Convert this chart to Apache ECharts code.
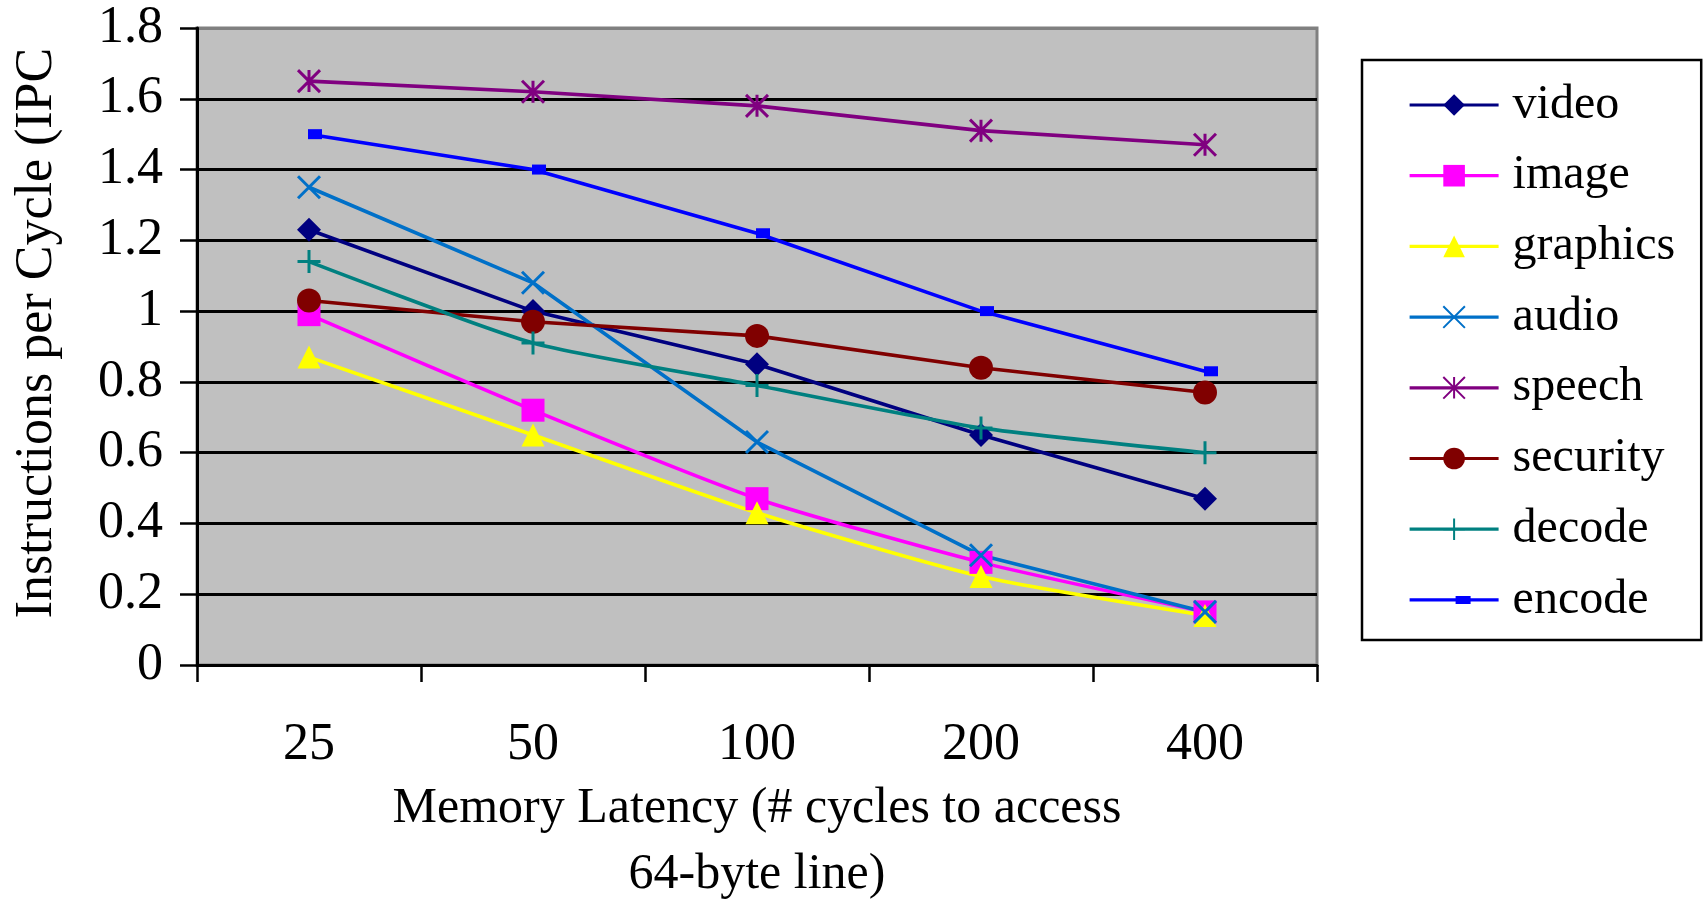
<!DOCTYPE html>
<html>
<head>
<meta charset="utf-8">
<title>IPC vs memory latency</title>
<script src="https://cdn.jsdelivr.net/npm/echarts@6/dist/echarts.min.js"></script>
<style>
  html, body { margin: 0; padding: 0; background: #ffffff; }
  #chart { width: 1707px; height: 901px; }
</style>
</head>
<body>
<div id="chart"></div>
<script>
// Memory latency settings (cycles to fetch a 64-byte line)
const latencies = ['25', '50', '100', '200', '400'];

// Instructions per cycle for each workload class
const video    = [1.23, 1.00, 0.85, 0.65, 0.47];
const image    = [0.99, 0.72, 0.47, 0.29, 0.15];
const graphics = [0.87, 0.65, 0.43, 0.25, 0.14];
const audio    = [1.35, 1.08, 0.63, 0.31, 0.15];
const speech   = [1.65, 1.62, 1.58, 1.51, 1.47];
const security = [1.03, 0.97, 0.93, 0.84, 0.77];
const decode   = [1.14, 0.91, 0.79, 0.67, 0.60];
const encode   = [1.50, 1.40, 1.22, 1.00, 0.83];

// Value axis range
const yMin = 0;
const yMax = 1.8;
const yStep = 0.2;

const FONT = '"Liberation Serif", "Times New Roman", serif';
const LINE_W = 3.6;

// Stroke-only marker outlines
const SYM_X = 'path://M0,0L20,20M20,0L0,20';
const SYM_STAR = 'path://M10,0L10,20M0,0L20,20M20,0L0,20';
const SYM_PLUS = 'path://M10,0L10,20M0,10L20,10';
// Legend glyph for the encode series: line with a small offset block
const ICON_ENCODE = 'path://M0,11.4h89v3.2h-89zM46,9h15v8h-15z';

function filled(name, data, color, symbol, size, extra) {
  return Object.assign({
    name: name, type: 'line', data: data,
    symbol: symbol, symbolSize: size,
    lineStyle: { color: color, width: LINE_W },
    itemStyle: { color: color },
    emphasis: { disabled: true },
    animation: false
  }, extra || {});
}

function stroked(name, data, color, symbol, size, extra) {
  return Object.assign({
    name: name, type: 'line', data: data,
    symbol: symbol, symbolSize: size,
    lineStyle: { color: color, width: LINE_W },
    itemStyle: { color: 'none', borderColor: color, borderWidth: 3 },
    emphasis: { disabled: true },
    animation: false
  }, extra || {});
}

const series = [
  filled('video', video, '#000080', 'diamond', 24),
  filled('image', image, '#FF00FF', 'rect', 23, { smooth: 0.2 }),
  filled('graphics', graphics, '#FFFF00', 'triangle', 23, { smooth: 0.2 }),
  stroked('audio', audio, '#0070C8', SYM_X, 22),
  stroked('speech', speech, '#800080', SYM_STAR, 22),
  filled('security', security, '#800000', 'circle', 24),
  stroked('decode', decode, '#008080', SYM_PLUS, 23, { smooth: 0.2 }),
  filled('encode', encode, '#0000FF', 'rect', [14, 10], { symbolOffset: [6, 0] })
];

const legendData = series.map(function (s) {
  return s.name === 'encode' ? { name: s.name, icon: ICON_ENCODE } : { name: s.name };
});

const splitColors = [];
for (let v = yMin; v <= yMax + 1e-9; v += yStep) splitColors.push('#000000');
splitColors[splitColors.length - 1] = '#808080';

const chart = echarts.init(document.getElementById('chart'), null, { renderer: 'canvas' });

chart.setOption({
  backgroundColor: '#ffffff',
  animation: false,
  grid: {
    left: 197, right: 390, top: 28, bottom: 236,
    show: true,
    backgroundColor: '#C0C0C0',
    borderColor: '#808080',
    borderWidth: 3,
    containLabel: false,
    outerBoundsMode: 'none'
  },
  xAxis: {
    type: 'category',
    data: latencies,
    boundaryGap: true,
    axisLine: { show: true, lineStyle: { color: '#000', width: 3 } },
    axisTick: { show: true, length: 17, lineStyle: { color: '#000', width: 2.5 } },
    axisLabel: { fontFamily: FONT, fontSize: 52, color: '#000', margin: 54 },
    splitLine: { show: false },
    name: 'Memory Latency (# cycles to access\n64-byte line)',
    nameLocation: 'middle',
    nameGap: 110,
    nameTextStyle: { fontFamily: FONT, fontSize: 50, color: '#000', lineHeight: 66 }
  },
  yAxis: {
    type: 'value',
    min: yMin, max: yMax, interval: yStep,
    axisLine: { show: true, lineStyle: { color: '#000', width: 3 } },
    axisTick: { show: true, length: 17, lineStyle: { color: '#000', width: 2.5 } },
    axisLabel: { fontFamily: FONT, fontSize: 52, color: '#000', margin: 34 },
    splitLine: { show: true, lineStyle: { color: splitColors, width: 3 } }
  },
  legend: {
    orient: 'vertical',
    left: 1362, top: 60,
    padding: [21, 26, 16, 46],
    itemWidth: 89, itemHeight: 27, itemGap: 22.7,
    backgroundColor: '#ffffff',
    borderColor: '#000000',
    borderWidth: 2.5,
    borderRadius: 0,
    selectedMode: false,
    lineStyle: { width: 3.2 },
    textStyle: { fontFamily: FONT, fontSize: 48, color: '#000', padding: [0, 0, 0, 9] },
    data: legendData
  },
  graphic: [{
    type: 'text',
    x: 37, y: 333,
    rotation: Math.PI / 2,
    style: {
      text: 'Instructions per Cycle (IPC',
      fontFamily: FONT, fontSize: 52, fill: '#000',
      align: 'center', verticalAlign: 'middle'
    }
  }],
  series: series
});
</script>
</body>
</html>
